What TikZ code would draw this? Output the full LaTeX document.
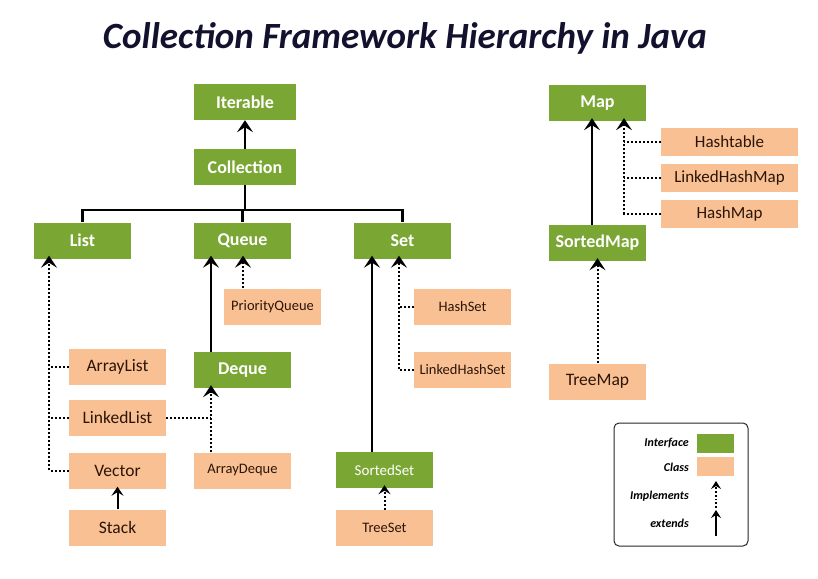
\documentclass[tikz,border=0pt]{standalone}
\usepackage{fontspec}
\setmainfont{Carlito}
\usetikzlibrary{arrows.meta}
\definecolor{ifgreen}{HTML}{7AA634}
\definecolor{clsorange}{HTML}{F9C193}
\definecolor{clstext}{HTML}{2B1408}
\definecolor{titlecol}{HTML}{12122E}
\tikzset{
  iface/.style={fill=ifgreen, text=white, font=\bfseries\fontsize{18}{20}\selectfont, minimum width=97pt, minimum height=36pt, inner sep=0pt},
  cls/.style={fill=clsorange, text=clstext, font=\fontsize{17.5}{20}\selectfont, minimum width=97pt, minimum height=36pt, inner sep=0pt},
  clssmall/.style={cls, font=\fontsize{14.5}{16}\selectfont},
  tip/.style={-{Stealth[length=12pt,width=16pt,inset=5pt]}},
  smalltip/.style={-{Stealth[length=9pt,width=12pt,inset=3.5pt]}},
  ext/.style={line width=2.4pt, tip},
  imp/.style={line width=2pt, dotted, tip},
  dotline/.style={line width=2pt, dotted},
  bar/.style={line width=2.2pt},
  legtext/.style={font=\bfseries\itshape\fontsize{12}{14}\selectfont, text=black, anchor=east, inner sep=0pt},
}
\begin{document}
\begin{tikzpicture}[x=1pt,y=-1pt]
\useasboundingbox[fill=white] (0,0) rectangle (818,578);
% title
\node[font=\bfseries\itshape\fontsize{37}{40}\selectfont, text=titlecol] (title) at (405,38) {Collection Framework Hierarchy in Java};
% interfaces
\node[iface, minimum width=102pt] (iter) at (245,102) {Iterable};
\node[iface, minimum width=102pt] (coll) at (245,167) {Collection};
\node[iface] (list) at (82.5,240.5) {List};
\node[iface] (queue) at (242.5,240.5) {Queue};
\node[iface] (set) at (402.5,240.5) {Set};
\node[iface] (deque) at (242.5,370) {Deque};
\node[iface, font=\fontsize{15}{17}\selectfont] (sset) at (384.5,470) {SortedSet};
\node[iface] (map) at (597.5,103) {Map};
\node[iface] (smap) at (597.5,243) {SortedMap};
% classes
\node[cls] (alist) at (117.5,366.5) {ArrayList};
\node[cls] (llist) at (117.5,417.5) {LinkedList};
\node[cls] (vector) at (117.5,470.5) {Vector};
\node[cls] (stack) at (117.5,527.5) {Stack};
\node[clssmall] (pq) at (272.5,306.5) {PriorityQueue};
\node[clssmall] (adeque) at (242.5,470.5) {ArrayDeque};
\node[clssmall] (hset) at (462.5,306.5) {HashSet};
\node[clssmall] (lhset) at (462.5,370) {LinkedHashSet};
\node[clssmall] (tset) at (384.5,528) {TreeSet};
\node[cls, minimum width=137pt, minimum height=28pt, font=\fontsize{17}{19}\selectfont] (htable) at (729.5,142) {Hashtable};
\node[cls, minimum width=137pt, minimum height=28pt, font=\fontsize{17}{19}\selectfont] (lhmap) at (729.5,178) {LinkedHashMap};
\node[cls, minimum width=137pt, minimum height=28pt, font=\fontsize{17}{19}\selectfont] (hmap) at (729.5,213.5) {HashMap};
\node[cls] (tmap) at (597.5,381.5) {TreeMap};
% helper coordinates
\coordinate (barc) at (245,210);
\coordinate (lx) at (49,0);
\coordinate (qx) at (211,0);
\coordinate (px) at (243,0);
\coordinate (sx) at (372,0);
\coordinate (sx2) at (399,0);
\coordinate (mx) at (592,0);
\coordinate (mx2) at (624,0);
% Iterable / Collection
\draw[ext] (coll.north) -- (iter.south);
\draw[bar] (coll.south) -- (barc);
\draw[bar] (list.north) |- (barc) -| (set.north);
\draw[bar] (queue.north) -- (queue.north |- barc);
% List
\draw[imp] (vector.west) -| ([yshift=3pt]lx |- list.south);
\draw[dotline] (alist.west) -- (alist.west -| lx);
\draw[dotline] (llist.west) -- (llist.west -| lx);
\draw[line width=2pt, smalltip] (stack.north) -- ([yshift=2pt]vector.south);
% Queue
\draw[ext] (qx |- deque.north) -- ([yshift=3pt]qx |- queue.south);
\draw[imp] (px |- pq.north) -- ([yshift=3pt]px |- queue.south);
\draw[imp] (qx |- adeque.north) -- ([yshift=3pt]qx |- deque.south);
\draw[dotline] (llist.east) -- (llist.east -| qx);
% Set
\draw[ext] (sx |- sset.north) -- ([yshift=3pt]sx |- set.south);
\draw[imp] (lhset.west) -| ([yshift=3pt]sx2 |- set.south);
\draw[dotline] (hset.west) -- (hset.west -| sx2);
\draw[line width=2pt, dotted, smalltip] (tset.north) -- ([yshift=3pt]sset.south);
% Map
\draw[ext] (mx |- smap.north) -- ([yshift=3pt]mx |- map.south);
\draw[imp] (hmap.west) -| ([yshift=3pt]mx2 |- map.south);
\draw[dotline] (htable.west) -- (htable.west -| mx2);
\draw[dotline] (lhmap.west) -- (lhmap.west -| mx2);
\draw[imp] (tmap.north) -- ([yshift=3pt]smap.south);
% legend
\node[draw=black!85, line width=1pt, rounded corners=5pt, minimum width=134pt, minimum height=123pt, inner sep=0pt] (legend) at (681,484.5) {};
\node[fill=ifgreen, minimum width=37pt, minimum height=19pt, inner sep=0pt] (lgif) at (715.5,443) {};
\node[fill=clsorange, minimum width=37pt, minimum height=19pt, inner sep=0pt] (lgcl) at (715.5,466.5) {};
\node[legtext] (tif) at (689,443) {Interface};
\node[legtext] (tcl) at (689,467) {Class};
\node[legtext] (tim) at (689,496) {Implements};
\node[legtext] (tex) at (689,523) {extends};
\coordinate (ia) at (716,508);
\coordinate (ib) at (716,481);
\coordinate (ea) at (716,536);
\coordinate (eb) at (716,510);
\draw[line width=1.8pt, dotted, -{Stealth[length=8pt,width=10pt,inset=3pt]}] (ia) -- (ib);
\draw[line width=2pt, -{Stealth[length=8pt,width=10pt,inset=3pt]}] (ea) -- (eb);
\end{tikzpicture}
\end{document}
